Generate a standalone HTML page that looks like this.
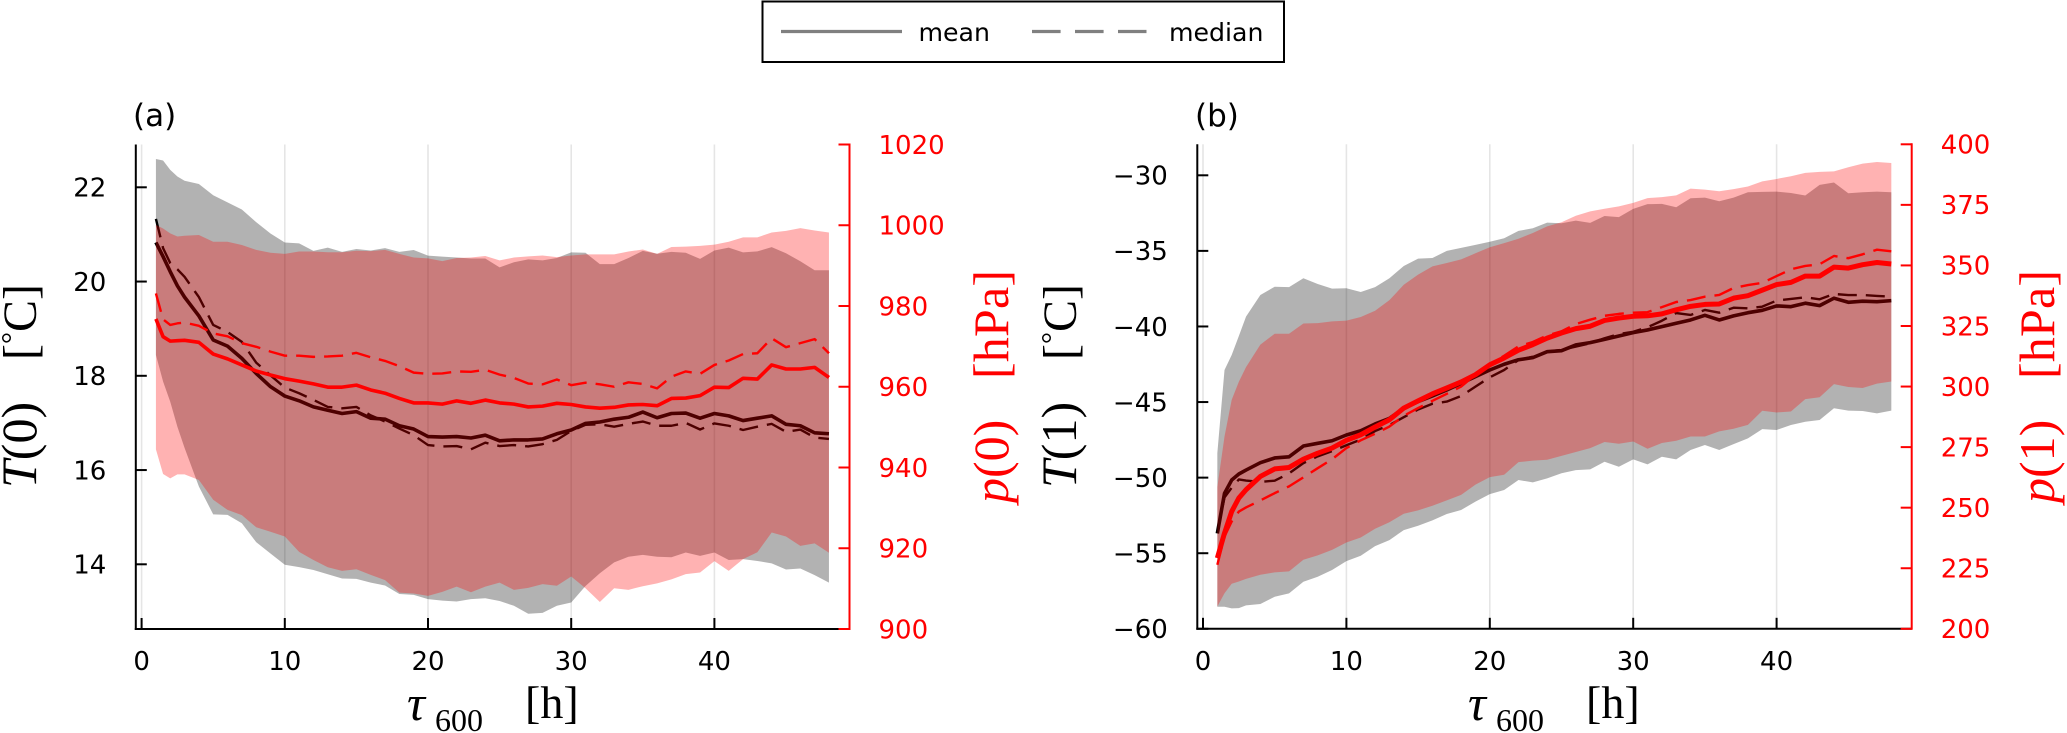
<!DOCTYPE html>
<html lang="en">
<head>
<meta charset="utf-8">
<title>Temperature and pressure vs tau600</title>
<style>
html,body{margin:0;padding:0;background:#fff;width:2067px;height:733px;overflow:hidden}
svg{display:block}
text{font-family:"DejaVu Sans","Liberation Sans",sans-serif}
.cm{font-family:"Liberation Serif","DejaVu Serif",serif}
</style>
</head>
<body>
<svg id="figure" xmlns="http://www.w3.org/2000/svg" width="2067" height="733" viewBox="0 0 2067 733">
  <rect x="0" y="0" width="2067" height="733" fill="#fff"/>
  <g id="panel-a"></g>
  <g id="panel-b"></g>

  <g>
    <rect x="762.5" y="1.5" width="521.5" height="60.5" fill="#fff" stroke="#000" stroke-width="2"/>
    <line x1="781" y1="31.5" x2="902" y2="31.5" stroke="#808080" stroke-width="3.2"/>
    <text x="918.5" y="41" font-size="25.2" fill="#000">mean</text>
    <line x1="1032" y1="31.5" x2="1146.5" y2="31.5" stroke="#808080" stroke-width="3.2" stroke-dasharray="28.6 14.4"/>
    <text x="1169" y="41" font-size="25.2" fill="#000">median</text>
  </g>

  <text x="133" y="126" font-size="31" fill="#000">(a)</text>
  <text x="1195" y="126" font-size="31" fill="#000">(b)</text>

  <text class="cm" transform="translate(36,488) rotate(-90)" font-size="50" fill="#000"><tspan font-style="italic">T</tspan>(0)</text>
  <text class="cm" transform="translate(36,360) rotate(-90)" font-size="48" fill="#000">[<tspan font-size="30" dy="-14">°</tspan><tspan dy="14">C</tspan>]</text>
  <text class="cm" transform="translate(1076,488) rotate(-90)" font-size="50" fill="#000"><tspan font-style="italic">T</tspan>(1)</text>
  <text class="cm" transform="translate(1076,360) rotate(-90)" font-size="48" fill="#000">[<tspan font-size="30" dy="-14">°</tspan><tspan dy="14">C</tspan>]</text>

  <text class="cm" transform="translate(1008,503) rotate(-90)" font-size="50" fill="#f00"><tspan font-style="italic">p</tspan>(0)</text>
  <text class="cm" transform="translate(1008,379) rotate(-90)" font-size="50" fill="#f00" textLength="109">[hPa]</text>
  <text class="cm" transform="translate(2054,503) rotate(-90)" font-size="50" fill="#f00"><tspan font-style="italic">p</tspan>(1)</text>
  <text class="cm" transform="translate(2054,379) rotate(-90)" font-size="50" fill="#f00" textLength="109">[hPa]</text>

  <g>
    <text class="cm" x="407" y="720" font-size="50" font-style="italic" fill="#000">τ</text>
    <text class="cm" x="435" y="731" font-size="32" fill="#000">600</text>
    <text class="cm" x="525" y="718" font-size="46" fill="#000">[h]</text>
  </g>
  <g>
    <text class="cm" x="1468" y="720" font-size="50" font-style="italic" fill="#000">τ</text>
    <text class="cm" x="1496" y="731" font-size="32" fill="#000">600</text>
    <text class="cm" x="1586" y="718" font-size="46" fill="#000">[h]</text>
  </g>
</svg>

<script>
// Shared x categories (hours)
const tau = [1,1.5,2,2.5,3,
  4,5,6,7,8,9,10,11,12,13,
  14,15,16,17,18,19,20,21,22,23,
  24,25,26,27,28,29,30,31,32,33,
  34,35,36,37,38,39,40,41,42,43,
  44,45,46,47,48];

// Tick labels
const xTicks = [0,10,20,30,40];
const aLeftTicks = [14,16,18,20,22];
const aRightTicks = [900,920,940,960,980,1000,1020];
const bLeftTicks = [-60,-55,-50,-45,-40,-35,-30];
const bRightTicks = [200,225,250,275,300,325,350,375,400];

// Panel (a) series
const aTHi = [22.6,22.57,22.37,22.23,22.14,
  22.07,21.83,21.68,21.53,21.26,21.02,20.83,20.81,20.65,20.72,
  20.63,20.69,20.66,20.71,20.63,20.67,20.55,20.53,20.51,20.49,
  20.49,20.30,20.41,20.47,20.45,20.5,20.62,20.61,20.37,20.37,
  20.5,20.65,20.59,20.63,20.61,20.48,20.66,20.72,20.62,20.64,
  20.73,20.6,20.43,20.24,20.24];
const aTLo = [18.44,17.88,17.45,16.92,16.47,
  15.65,15.06,15.05,14.87,14.47,14.23,13.99,13.94,13.88,13.79,
  13.7,13.69,13.61,13.55,13.37,13.35,13.26,13.23,13.21,13.26,
  13.28,13.22,13.12,12.95,12.97,13.12,13.19,13.54,13.81,14.04,
  14.16,14.2,14.16,14.15,14.25,14.18,14.25,14.09,14.11,14.07,
  14.02,13.89,13.91,13.77,13.61];
const aPHi = [1000.1,999.2,998,997.2,997.4,
  997.6,995.9,995.9,995.1,993.9,993.2,992.9,993.5,993.5,993.3,
  993.3,993.7,993.6,993.9,992.9,992,991.8,991.1,991.9,992,
  992.4,991.3,992,992.3,992.5,992.1,992.5,992.8,992.8,992.8,
  993.5,994,992.9,994.6,994.7,994.9,995.2,995.9,997,997,
  998.2,998.6,999.3,998.7,998.2];
const aPLo = [944.5,938.4,937.3,938.3,938.3,
  936.9,932,929.5,928.2,925.2,924.1,922.9,919.1,917.1,915.3,
  914.4,914.8,913.4,912.1,909,908.8,908.2,909.2,910.5,909.1,
  910.5,911.5,909.7,910.2,911.1,910.7,913,910.1,906.7,910.1,
  909.7,910.6,911.3,912.3,913.6,914,916.8,914.4,917.3,919,
  923.9,922.9,920.6,921.2,918.9];
const aTMean = [20.83,20.53,20.21,19.91,19.67,
  19.27,18.76,18.63,18.37,18.05,17.77,17.57,17.47,17.34,17.27,
  17.2,17.24,17.1,17.08,16.94,16.87,16.71,16.7,16.71,16.68,
  16.74,16.62,16.64,16.64,16.66,16.77,16.85,16.99,17.02,17.08,
  17.12,17.23,17.11,17.2,17.21,17.1,17.2,17.15,17.05,17.1,
  17.15,16.97,16.94,16.79,16.77];
const aTMedian = [21.33,20.71,20.39,20.26,20.1,
  19.67,19.08,18.93,18.72,18.28,18.01,17.75,17.63,17.49,17.34,
  17.31,17.34,17.16,17.03,16.88,16.74,16.53,16.5,16.51,16.44,
  16.58,16.51,16.53,16.5,16.55,16.64,16.83,16.96,16.97,16.92,
  16.98,17.03,16.94,16.94,17,16.86,16.99,16.94,16.85,16.92,
  16.98,16.81,16.86,16.69,16.66];
const aPMean = [976.8,972.4,971.3,971.4,971.5,
  971,968.1,966.9,965.4,963.9,962.9,962,961.4,960.7,959.9,
  959.9,960.4,959.2,958.4,957.1,956,956,955.7,956.5,955.9,
  956.7,956,955.7,955,955.2,955.9,955.6,955,954.7,954.9,
  955.5,955.6,955.3,957.1,957.2,957.8,959.9,959.8,962.1,961.9,
  965.4,964.4,964.4,964.8,962.3];
const aPMedian = [983.1,976.7,975.3,975.7,975.9,
  975.1,973.2,972.5,970.8,969.9,968.7,967.7,967.7,967.4,967.5,
  967.7,968.4,967.3,966.4,965.1,963.5,963.2,963.3,963.8,963.7,
  964.2,963,962.2,960.8,960.6,961.8,960.4,961,960.6,960,
  961.1,960.7,959.6,962.5,963.8,963.2,965.4,966.5,968.1,968.3,
  972,969.8,970.8,971.8,968.3];

// Panel (b) series
const bTHi = [-48.37,-42.88,-41.89,-40.63,-39.35,
  -37.92,-37.37,-37.4,-36.81,-37.19,-37.5,-37.47,-37.72,-37.4,-36.81,
  -36,-35.51,-35.47,-35,-34.8,-34.6,-34.4,-34.16,-33.68,-33.5,
  -33.13,-33.17,-33,-33.15,-32.69,-32.77,-32.22,-31.91,-31.89,-32.11,
  -31.52,-31.48,-31.72,-31.48,-31.12,-31.1,-31.08,-31.17,-31.34,-30.63,
  -30.48,-31.19,-31.12,-31.08,-31.12];
const bTLo = [-58.54,-58.54,-58.65,-58.63,-58.45,
  -58.36,-57.88,-57.66,-56.89,-56.56,-56.11,-55.52,-55.17,-54.53,-54.13,
  -53.47,-53.18,-52.83,-52.41,-52.14,-51.59,-51.09,-50.82,-50.16,-50.31,
  -50.05,-49.71,-49.5,-49.45,-48.95,-49.28,-48.79,-49.12,-48.62,-48.79,
  -48.17,-47.84,-48.17,-47.78,-47.4,-46.79,-46.85,-46.52,-46.3,-46.19,
  -45.41,-45.57,-45.59,-45.75,-45.57];
const bPHi = [258.6,279.4,294.5,302,308,
  317.3,321.8,321.8,326,326.2,326.9,327.2,328.7,331.3,335.7,
  342,346.2,349.6,351,352.5,355,357.5,359.2,361,363.4,
  366.1,367.8,370.5,372.3,373.4,374.4,375.8,377.8,378.2,378.9,
  381.7,381.3,380.6,381.5,382.6,384.7,385.7,386.8,388.2,388.6,
  388.8,390.5,392,392.7,392.3];
const bPLo = [209.2,214.7,218.6,219.5,220.6,
  222.3,223.3,223.7,228.5,230.3,232.6,235.6,237.7,241.3,244,
  247.5,248.9,250.8,253,255.3,259.5,262.6,263.6,268.8,269.4,
  269.8,271.4,273,274.6,277.1,276.4,277.3,274.3,276.7,277.6,
  279.4,279.4,281.5,282.6,284.2,290,289.3,289.7,294.8,295.6,
  301,299.8,299.4,301.2,302.1];
const bTMean = [-53.69,-51.04,-50.16,-49.76,-49.5,
  -49.01,-48.7,-48.62,-47.91,-47.73,-47.56,-47.18,-46.9,-46.45,-46.08,
  -45.41,-44.97,-44.6,-44.2,-43.76,-43.32,-42.88,-42.5,-42.2,-42.06,
  -41.67,-41.6,-41.22,-41.07,-40.85,-40.63,-40.41,-40.23,-40.01,-39.79,
  -39.57,-39.26,-39.57,-39.3,-39.09,-38.93,-38.64,-38.69,-38.46,-38.62,
  -38.13,-38.4,-38.33,-38.36,-38.29];
const bTMedian = [-53.6,-51.31,-50.67,-50.12,-50.19,
  -50.28,-50.2,-49.72,-49.04,-48.59,-48.25,-47.86,-47.48,-46.92,-46.52,
  -46,-45.49,-45.11,-44.97,-44.6,-43.98,-43.36,-42.88,-42.22,-42,
  -41.67,-41.55,-41.33,-41.11,-40.78,-40.5,-40.35,-40.05,-39.62,-39.11,
  -39.24,-38.91,-39.09,-38.76,-38.8,-38.69,-38.29,-38.18,-38.07,-38.2,
  -37.85,-37.92,-37.92,-37.98,-38.03];
const bPMean = [229.2,239.5,248.4,254,257.4,
  262.9,266,266.6,270,272.5,274.6,277.8,280.1,283.3,286.3,
  291.1,294.1,297,299.4,301.9,304.9,309,311.8,315,317.3,
  320,322.1,323.9,324.9,327.3,328.3,329,329.2,330,331.7,
  333.1,333.9,334.1,336.5,337.5,339.8,342.1,343,345.6,345.6,
  349.3,348.9,350.3,351.2,350.6];
const bPMedian = [226.4,238.1,244.3,248.4,250.1,
  253,256,258.8,262.5,266.3,270,274.6,277.8,280.5,283.5,
  287.9,291.1,294.1,297,300,304.9,309.3,312.7,316.6,318.4,
  321.1,322.8,325.8,327.6,329.2,330,330.5,330.7,332.8,334.9,
  335.7,337.1,337.8,340.7,341.9,342.8,345.6,348.4,349.8,350.5,
  353.9,353,354.6,356.5,355.8];

const NS = 'http://www.w3.org/2000/svg';
function mk(parent, tag, attrs, content) {
  const el = document.createElementNS(NS, tag);
  for (const k in attrs) el.setAttribute(k, attrs[k]);
  if (content !== undefined) el.textContent = content;
  parent.appendChild(el);
  return el;
}
function linScale(d0, d1, r0, r1) {
  return v => r0 + (v - d0) * (r1 - r0) / (d1 - d0);
}
function lineD(xs, ys, sx, sy) {
  return xs.map((t, i) => (i ? 'L' : 'M') + sx(t).toFixed(2) + ' ' + sy(ys[i]).toFixed(2)).join('');
}
function bandD(xs, hi, lo, sx, sy) {
  const top = xs.map((t, i) => (i ? 'L' : 'M') + sx(t).toFixed(2) + ' ' + sy(hi[i]).toFixed(2)).join('');
  let bot = '';
  for (let i = xs.length - 1; i >= 0; i--) bot += 'L' + sx(xs[i]).toFixed(2) + ' ' + sy(lo[i]).toFixed(2);
  return top + bot + 'Z';
}
function tickText(v) {
  return v < 0 ? '\u2212' + Math.abs(v) : String(v);
}

function drawPanel(cfg) {
  const g = document.getElementById(cfg.id);
  const sx = linScale(0, 40, cfg.x0, cfg.x40);
  const sl = linScale(cfg.leftD[0], cfg.leftD[1], cfg.leftR[0], cfg.leftR[1]);
  const sr = linScale(cfg.rightD[0], cfg.rightD[1], cfg.bottom, cfg.top);

  // Grid
  xTicks.forEach(t => {
    const el = mk(g, 'line', {x1: sx(t), x2: sx(t), y1: cfg.top, y2: cfg.bottom, stroke: '#000', 'stroke-opacity': 0.1, 'stroke-width': 1.6});
    
    
  });

  // Temperature band and lines (below pressure band)
  const tBand = mk(g, 'path', {d: bandD(tau, cfg.tHi, cfg.tLo, sx, sl), fill: '#000', 'fill-opacity': 0.3});
  
  

  const tMean = mk(g, 'path', {d: lineD(tau, cfg.tMean, sx, sl), fill: 'none', stroke: '#000', 'stroke-width': 3.6, 'stroke-linejoin': 'round'});
  
  

  const tMedian = mk(g, 'path', {d: lineD(tau, cfg.tMedian, sx, sl), fill: 'none', stroke: '#000', 'stroke-width': 2.4, 'stroke-dasharray': '19 9', 'stroke-linejoin': 'round'});
  
  

  // Left and bottom axes
  const bottomAxis = mk(g, 'line', {x1: cfg.axisL - 1, x2: cfg.axisR, y1: cfg.bottom, y2: cfg.bottom, stroke: '#000', 'stroke-width': 2});
  
  

  const leftAxis = mk(g, 'line', {x1: cfg.axisL, x2: cfg.axisL, y1: cfg.top, y2: cfg.bottom + 1, stroke: '#000', 'stroke-width': 2});
  
  

  xTicks.forEach(t => {
    const tk = mk(g, 'line', {x1: sx(t), x2: sx(t), y1: cfg.bottom, y2: cfg.bottom - 11, stroke: '#000', 'stroke-width': 2});
    
    
    const lb = mk(g, 'text', {x: sx(t), y: 670, 'text-anchor': 'middle', 'font-size': 26, fill: '#000'}, tickText(t));
    
    
  });

  cfg.leftTicks.forEach(v => {
    const tk = mk(g, 'line', {x1: cfg.axisL, x2: cfg.axisL + 11, y1: sl(v), y2: sl(v), stroke: '#000', 'stroke-width': 2});
    
    
    const lb = mk(g, 'text', {x: cfg.axisL - 29.5, y: sl(v) + 9.3, 'text-anchor': 'end', 'font-size': 26, fill: '#000'}, tickText(v));
    
    
  });

  // Pressure band and lines (above everything from the left axis)
  const pBand = mk(g, 'path', {d: bandD(tau, cfg.pHi, cfg.pLo, sx, sr), fill: '#f00', 'fill-opacity': 0.3});
  
  

  const pMean = mk(g, 'path', {d: lineD(tau, cfg.pMean, sx, sr), fill: 'none', stroke: '#f00', 'stroke-width': cfg.pMeanWidth, 'stroke-linejoin': 'round'});
  
  

  const pMedian = mk(g, 'path', {d: lineD(tau, cfg.pMedian, sx, sr), fill: 'none', stroke: '#f00', 'stroke-width': 2.4, 'stroke-dasharray': '19 9', 'stroke-linejoin': 'round'});
  
  

  // Right axis
  const rightAxis = mk(g, 'line', {x1: cfg.axisR, x2: cfg.axisR, y1: cfg.top - 1, y2: cfg.bottom + 1, stroke: '#f00', 'stroke-width': 2});
  
  

  cfg.rightTicks.forEach(v => {
    const tk = mk(g, 'line', {x1: cfg.axisR, x2: cfg.axisR - 11, y1: sr(v), y2: sr(v), stroke: '#f00', 'stroke-width': 2});
    
    
    const lb = mk(g, 'text', {x: cfg.axisR + 29, y: sr(v) + 9.3, 'text-anchor': 'start', 'font-size': 26, fill: '#f00'}, tickText(v));
    
    
  });
}

drawPanel({
  id: 'panel-a', x0: 141.6, x40: 714.4, axisL: 135.8, axisR: 849.5, top: 144.5, bottom: 629,
  leftD: [14, 22], leftR: [564.3, 187.3], rightD: [900, 1020],
  leftTicks: aLeftTicks, rightTicks: aRightTicks, pMeanWidth: 3.6,
  tHi: aTHi, tLo: aTLo, pHi: aPHi, pLo: aPLo,
  tMean: aTMean, tMedian: aTMedian, pMean: aPMean, pMedian: aPMedian
});
drawPanel({
  id: 'panel-b', x0: 1203, x40: 1776.6, axisL: 1197.3, axisR: 1911.7, top: 144.3, bottom: 628.8,
  leftD: [-60, -30], leftR: [628.8, 175.3], rightD: [200, 400],
  leftTicks: bLeftTicks, rightTicks: bRightTicks, pMeanWidth: 5,
  tHi: bTHi, tLo: bTLo, pHi: bPHi, pLo: bPLo,
  tMean: bTMean, tMedian: bTMedian, pMean: bPMean, pMedian: bPMedian
});
</script>
</body>
</html>
